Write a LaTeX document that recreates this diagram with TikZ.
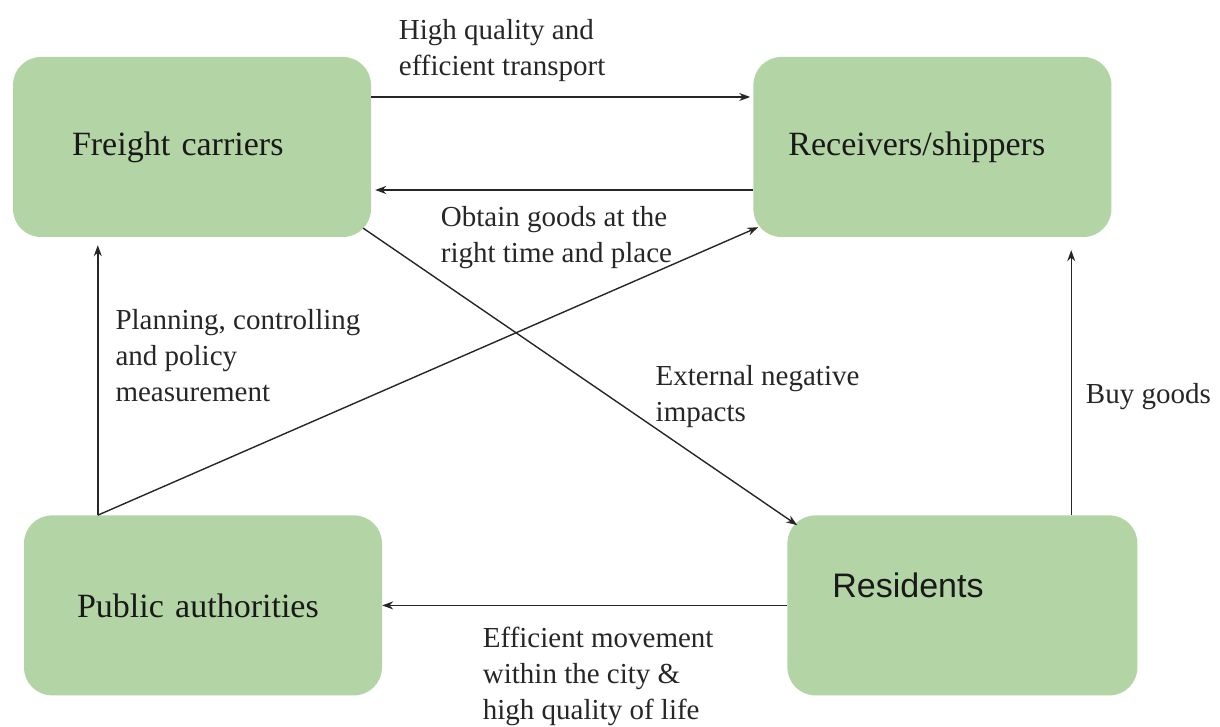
\documentclass[tikz,border=0pt]{standalone}
\usepackage{fontspec}
\setmainfont{Liberation Serif}
\newfontfamily\sansres{Liberation Sans}
\usetikzlibrary{positioning}
\usetikzlibrary{arrows.meta}
\definecolor{boxgreen}{RGB}{179,212,165}
\tikzstyle{actor} = [rectangle, rounded corners=28pt, minimum width=358pt, minimum height=180pt, inner xsep=0pt, align=left, fill=boxgreen, text=black!90, font=\fontsize{34}{40}\selectfont]
\tikzstyle{arrow} = [line width=1.4pt, draw=black!85, -{Stealth[length=11pt,width=8pt]}]
\tikzstyle{note} = [inner sep=0pt, align=left, anchor=base west, text=black!85, font=\fontsize{29}{36}\selectfont]

\begin{document}
\begin{tikzpicture}[x=1pt, y=1pt]
        \useasboundingbox (0,0) rectangle (1220,727);
        \node (freight) [actor, text width=240pt] at (192,580) {Freight carriers};
        \node (receivers) [actor, text width=288pt, right=382pt of freight] {Receivers/shippers};
        \node (public) [actor, text width=252pt, below=278pt of freight, xshift=11pt] {Public authorities};
        \node (residents) [actor, minimum width=350pt, text width=260pt, text depth=40pt, right=405pt of public, font=\sansres\fontsize{34}{40}\selectfont] {Residents};

        \draw [arrow] ([yshift=50pt]freight.east) -- node[note, at start, xshift=27pt, yshift=21pt] {High quality and\\efficient transport} ([yshift=50pt, xshift=-3pt]receivers.west);
        \draw [arrow] ([yshift=-43pt]receivers.west) -- node[note, at end, xshift=65pt, yshift=-73pt] {Obtain goods at the\\right time and place} ([xshift=4pt, yshift=-43pt]freight.east);
        \draw [arrow, shorten >=8pt] ([xshift=74pt]public.north west) coordinate (pubtop) -- node[note, at start, xshift=17pt, yshift=114pt] {Planning, controlling\\and policy\\measurement} (pubtop |- freight.south);
        \draw [arrow] (pubtop) -- ([shift={(5pt,10pt)}]receivers.south west);
        \draw [arrow] ([shift={(-8pt,9pt)}]freight.south east) -- node[note, pos=0.67, xshift=1pt, yshift=6pt] {External negative\\impacts} ([shift={(10pt,-10pt)}]residents.north west);
        \draw [arrow, shorten >=13pt] ([xshift=284pt]residents.north west) coordinate (restop) -- node[note, at start, xshift=14pt, yshift=112pt] {Buy goods} (restop |- receivers.south);
        \draw [arrow] (residents.west) -- node[note, at end, xshift=100pt, yshift=-114pt] {Efficient movement\\within the city \&\\high quality of life} (public.east);
    \end{tikzpicture}
\end{document}
